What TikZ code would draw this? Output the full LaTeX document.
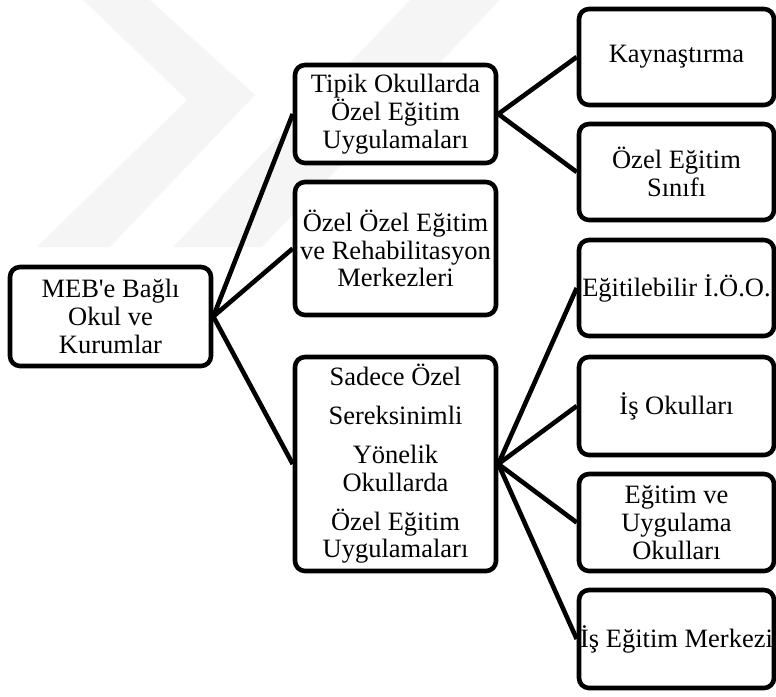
\documentclass[tikz,border=0pt]{standalone}
\usepackage{fontspec}
\setmainfont{Liberation Serif}[Ligatures=TeXOff]
\begin{document}
\begin{tikzpicture}[x=1pt,y=-1pt,
  box/.style={draw=black,line width=4.6pt,rounded corners=10pt,fill=white,
    inner sep=0pt,align=center,font=\fontsize{26.5}{27.8}\selectfont},
  midbox/.style={box,minimum width=201pt},
  rightbox/.style={box,minimum width=195pt,minimum height=96pt},
  link/.style={line width=4.6pt},
  wm/.style={fill=black!4,draw=none}]
\useasboundingbox (0,0) rectangle (776,696);
% faint watermark
\fill[wm] (83,0) -- (150,0) -- (255,95) -- (110,247) -- (37,247) -- (187,100) -- cycle;
\fill[wm] (173,247) -- (262,247) -- (500,0) -- (410,0) -- cycle;
% nodes
\node[box,minimum width=201pt,minimum height=99pt] (root) at (110.5,316.5) {MEB'e Bağlı\\Okul ve\\Kurumlar};
\node[midbox,minimum height=98pt] (tipik) at (395.5,114) {Tipik Okullarda\\Özel Eğitim\\Uygulamaları};
\node[midbox,minimum height=133pt] (ozel) at (395.5,248.5) {Özel Özel Eğitim\\ve Rehabilitasyon\\Merkezleri};
\node[midbox,minimum height=214pt] (sadece) at (395.5,464) {Sadece Özel\\[11pt]Sereksinimli\\[11pt]Yönelik\\Okullarda\\[11pt]Özel Eğitim\\Uygulamaları};
\node[rightbox] (kay) at (676.5,57) {Kaynaştırma};
\node[rightbox] (sinif) at (676.5,172) {Özel Eğitim\\Sınıfı};
\node[rightbox] (egit) at (676.5,288) {Eğitilebilir İ.Ö.O.};
\node[rightbox,minimum height=98pt] (isok) at (676.5,406) {İş Okulları};
\node[rightbox,minimum height=97pt] (uyg) at (676.5,522.5) {Eğitim ve\\Uygulama\\Okulları};
\node[rightbox,minimum height=98pt] (merk) at (676.5,639) {İş Eğitim Merkezi};
% connectors
\draw[link] (root.east) -- (tipik.west);
\draw[link] (root.east) -- (ozel.west);
\draw[link] (root.east) -- (sadece.west);
\draw[link] (tipik.east) -- (kay.west);
\draw[link] (tipik.east) -- (sinif.west);
\draw[link] (sadece.east) -- (egit.west);
\draw[link] (sadece.east) -- (isok.west);
\draw[link] (sadece.east) -- (uyg.west);
\draw[link] (sadece.east) -- (merk.west);
\end{tikzpicture}
\end{document}
